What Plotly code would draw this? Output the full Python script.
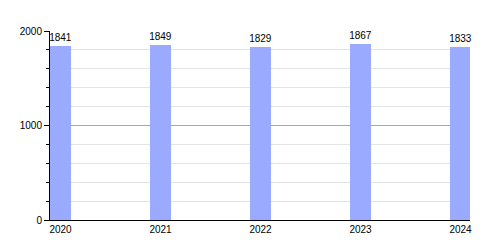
import plotly.graph_objects as go

years = ["2020", "2021", "2022", "2023", "2024"]
values = [1841, 1849, 1829, 1867, 1833]
xpos = [0, 1, 2, 3, 4]
ytick_vals = [0, 1000, 2000]

fig = go.Figure()
fig.add_trace(go.Bar(
    x=xpos, y=values, width=0.21,
    marker=dict(color="#99aaff", line=dict(width=0)),
    text=[str(v) for v in values], textposition="outside",
    constraintext="none",
    textfont=dict(size=10, color="black", family="Liberation Sans"),
    cliponaxis=False,
))

fig.update_layout(
    width=500, height=250,
    margin=dict(l=50, r=30, t=31, b=30),
    plot_bgcolor="white", paper_bgcolor="white",
    showlegend=False,
    font=dict(family="Liberation Sans", size=10, color="black"),
    bargap=0,
)
fig.update_xaxes(
    range=[-0.105, 4.095],
    tickvals=xpos, ticktext=years,
    showgrid=False, showline=True, linecolor="black", linewidth=1,
    ticks="", ticklen=0, zeroline=False,
    tickfont=dict(size=10),
)
fig.update_yaxes(
    range=[0, 2000],
    tickvals=ytick_vals,
    showgrid=True, gridcolor="#a8a8a8", gridwidth=1,
    showline=True, linecolor="black", linewidth=1,
    ticks="outside", ticklen=5, tickcolor="black",
    zeroline=False,
    tickfont=dict(size=10),
    minor=dict(dtick=200, showgrid=True, gridcolor="#e4e4e4", gridwidth=1,
               ticks="outside", ticklen=3, tickcolor="black"),
)
fig.write_html("out.html")
